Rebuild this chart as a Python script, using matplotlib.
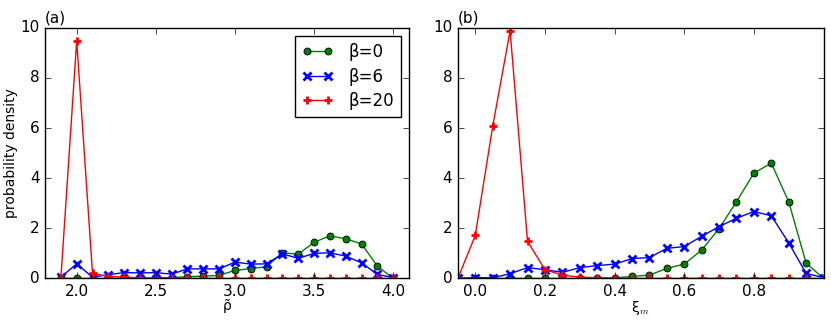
import matplotlib
matplotlib.use('Agg')
import matplotlib.pyplot as plt
import numpy as np

plt.style.use('classic')
plt.rcParams['font.size'] = 11

# panel (a): rho tilde
rho = [1.9, 2.0, 2.1, 2.2, 2.3, 2.4, 2.5, 2.6, 2.7, 2.8, 2.9,
       3.0, 3.1, 3.2, 3.3, 3.4, 3.5, 3.6, 3.7, 3.8, 3.9, 4.0]
a_b0 = [0.0, 0.0, 0.0, 0.0, 0.0, 0.01, 0.02, 0.03, 0.07, 0.09, 0.12,
        0.32, 0.39, 0.47, 1.02, 0.97, 1.44, 1.70, 1.58, 1.38, 0.49, 0.0]
a_b6 = [0.05, 0.58, 0.05, 0.15, 0.23, 0.22, 0.23, 0.17, 0.38, 0.38, 0.38,
        0.65, 0.57, 0.58, 0.98, 0.80, 1.00, 1.02, 0.89, 0.62, 0.16, 0.03]
a_b20 = [0.0, 9.48, 0.20, 0.08, 0.05, 0.02, 0.01, 0.0, 0.0, 0.0, 0.0,
         0.0, 0.0, 0.0, 0.0, 0.0, 0.0, 0.0, 0.0, 0.0, 0.0, 0.0]

# panel (b): xi_m
xi = [-0.05, 0.0, 0.05, 0.1, 0.15, 0.2, 0.25, 0.3, 0.35, 0.4, 0.45,
      0.5, 0.55, 0.6, 0.65, 0.7, 0.75, 0.8, 0.85, 0.9, 0.95, 1.0]
b_b0 = [0.0, 0.0, 0.0, 0.0, 0.0, 0.0, 0.0, 0.0, 0.0, 0.02, 0.08,
        0.13, 0.40, 0.57, 1.13, 1.99, 3.06, 4.20, 4.60, 3.06, 0.61, 0.0]
b_b6 = [0.0, 0.03, 0.02, 0.19, 0.43, 0.35, 0.24, 0.43, 0.51, 0.57, 0.79,
        0.83, 1.20, 1.27, 1.68, 2.07, 2.40, 2.67, 2.50, 1.42, 0.20, 0.03]
b_b20 = [0.0, 1.72, 6.07, 9.88, 1.48, 0.35, 0.13, 0.05, 0.03, 0.01, 0.0,
         0.0, 0.0, 0.0, 0.0, 0.0, 0.0, 0.0, 0.0, 0.0, 0.0, 0.0]

labels = ['β=0', 'β=6', 'β=20']

fig = plt.figure(figsize=(8.31, 3.2), dpi=100, facecolor='white')
ax1 = fig.add_axes([0.0542, 0.130, 0.438, 0.783])
ax2 = fig.add_axes([0.551, 0.130, 0.440, 0.783])


def draw(ax, x, g, b, r):
    ax.plot(x, g, '-o', color='green', mec='black', mew=0.6, ms=5, lw=1, label=labels[0])
    ax.plot(x, b, '-x', color='blue', mec='blue', mew=2, ms=6, lw=1, label=labels[1])
    ax.plot(x, r, '-+', color='red', mec='red', mew=2, ms=6, lw=1, label=labels[2])
    ax.set_ylim(0, 10)
    ax.set_yticks([0, 2, 4, 6, 8, 10])


draw(ax1, rho, a_b0, a_b6, a_b20)
ax1.set_xlim(1.8, 4.1)
ax1.set_xticks([2.0, 2.5, 3.0, 3.5, 4.0])
ax1.set_xlabel('ρ̃', labelpad=0, fontsize=10)
ax1.set_ylabel('probability density', fontsize=10)
ax1.yaxis.set_label_coords(-0.075, 0.5)
ax1.text(0.0, 1.02, '(a)', transform=ax1.transAxes, fontsize=11)
leg = ax1.legend(loc='upper right', numpoints=2, fontsize=12, handlelength=1.9,
                 borderpad=0.4, labelspacing=0.4, handletextpad=0.9)
leg.get_frame().set_linewidth(1)

draw(ax2, xi, b_b0, b_b6, b_b20)
ax2.set_xlim(-0.05, 1.0)
ax2.set_xticks([0.0, 0.2, 0.4, 0.6, 0.8])
ax2.set_xlabel('ξ$_m$', labelpad=0, fontsize=10)
ax2.text(0.0, 1.02, '(b)', transform=ax2.transAxes, fontsize=11)

fig.savefig('out.png', dpi=100, facecolor='white')
